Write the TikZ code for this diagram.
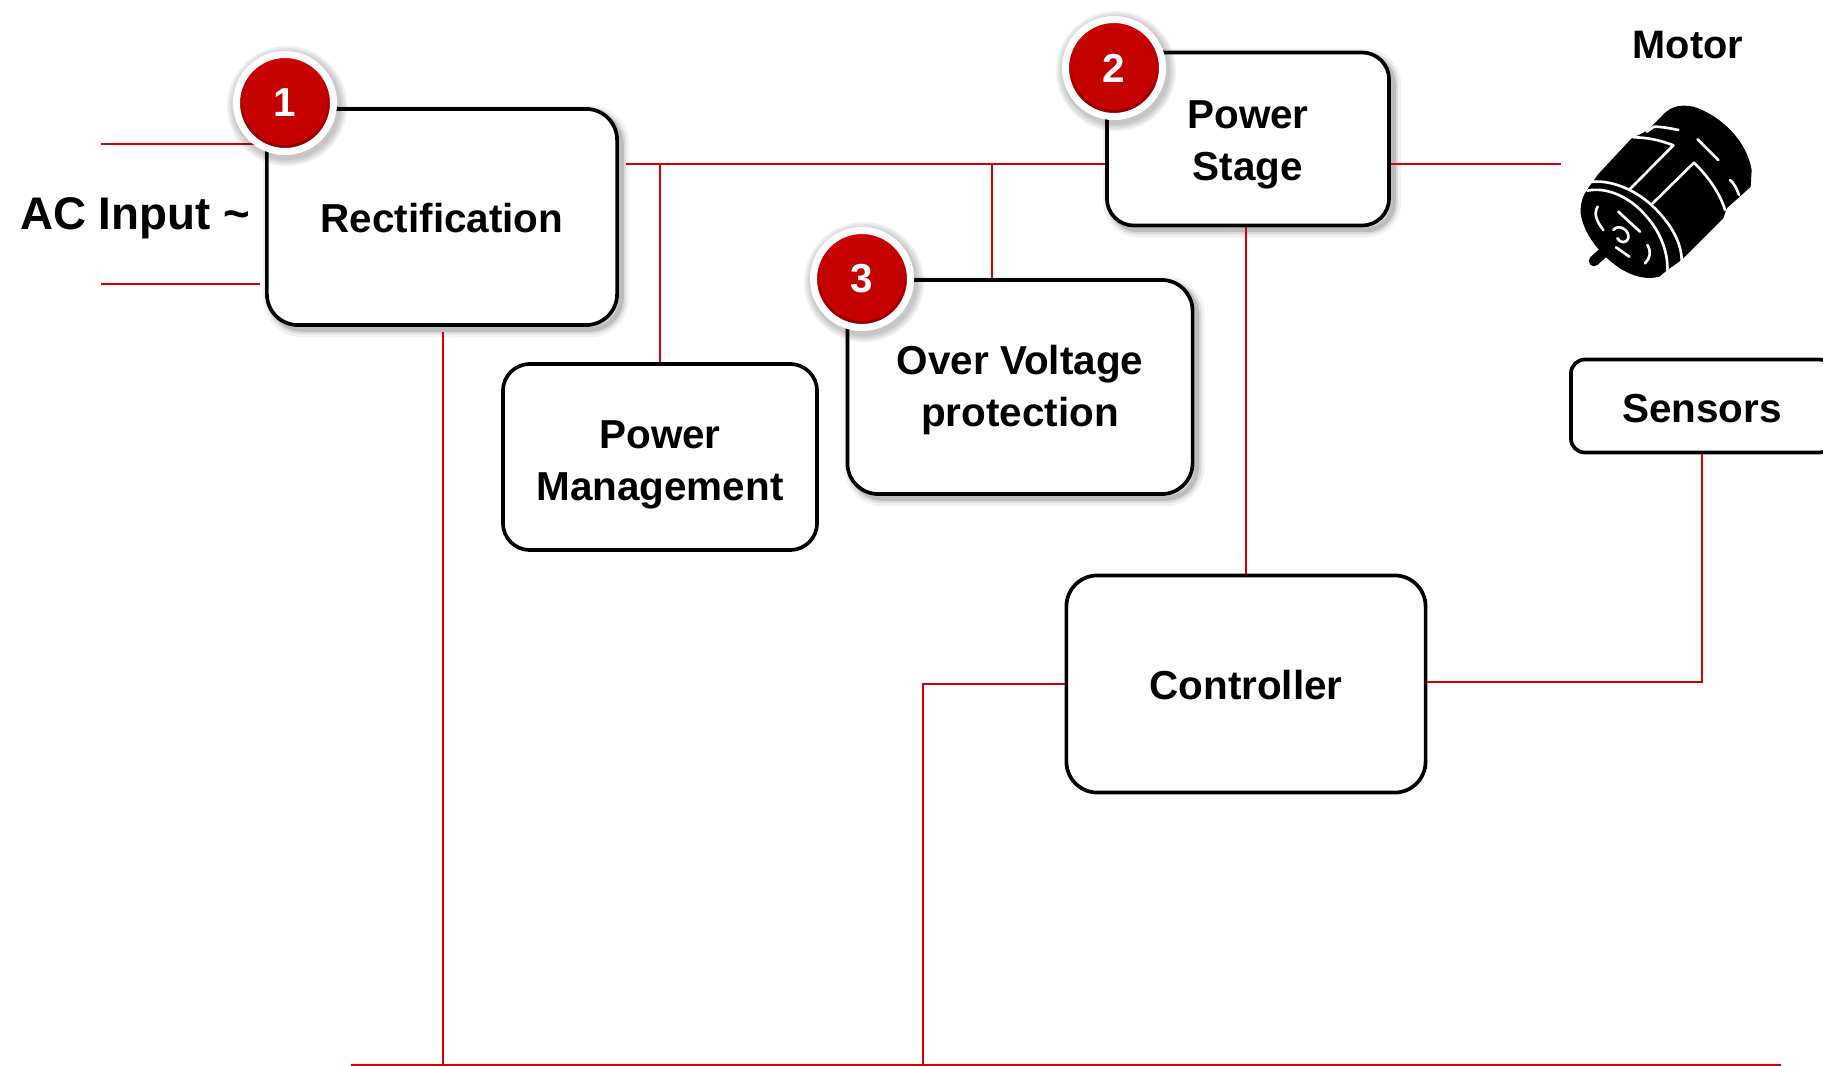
\documentclass[tikz,border=0pt]{standalone}
\usepackage{fontspec}
\setmainfont{Liberation Sans}
\definecolor{wirered}{RGB}{214,0,0}
\definecolor{badgered}{RGB}{196,0,0}
\newcommand{\blocktop}[1]{\rule{0pt}{#1pt}}
\tikzset{
    softshadow/.style={
        preaction={draw=black,opacity=.05,line width=4.5pt,transform canvas={xshift=1.2pt,yshift=-1.2pt}},
        preaction={draw=black,opacity=.09,line width=2.8pt,transform canvas={xshift=1.2pt,yshift=-1.2pt}},
        preaction={draw=black,opacity=.14,line width=1.4pt,transform canvas={xshift=1.2pt,yshift=-1.2pt}}},
    block/.style={shape=rectangle,draw=black,fill=white,line width=1.05pt,rounded corners=.31cm,inner sep=0pt,align=center,font=\fontsize{11.5}{14.8}\selectfont\bfseries},
    wire/.style={draw=wirered,line width=.78pt},
    badge/.style={shape=circle,minimum size=.97cm,inner sep=0pt,draw=white,line width=2pt,top color=red!85!black,bottom color=black!45!red,text=white,font=\fontsize{11.5}{13}\selectfont\bfseries,
        path picture={\fill[badgered] (path picture bounding box.center) circle (.42cm);}},
    glow/.style={fill=black,opacity=.06},
    slit/.style={draw=white,line width=.75pt,line cap=round,line join=round}
}
\begin{document}
\begin{tikzpicture}[x=.01cm,y=-.01cm]
    \clip (0,0) rectangle (1823,1066);

    % blocks
    \node[block,softshadow,minimum width=3.5cm,minimum height=2.16cm] (Rectification) at (442,217) {\blocktop{9}Rectification};
    \node[block,softshadow,minimum width=2.82cm,minimum height=1.73cm,rounded corners=.27cm] (PowerStage) at (1248,139) {\blocktop{11.1}Power\\Stage};
    \node[block,softshadow,minimum width=3.45cm,minimum height=2.14cm] (OverVoltage) at (1020,387) {\blocktop{10.3}Over Voltage\\protection};
    \node[block,minimum width=3.14cm,minimum height=1.86cm,rounded corners=.27cm] (PowerManagement) at (660,457) {\blocktop{12.3}Power\\Management};
    \node[block,minimum width=3.59cm,minimum height=2.17cm] (Controller) at (1246,684) {\blocktop{9}Controller};
    \node[block,minimum width=2.62cm,minimum height=.93cm,rounded corners=.14cm] (Sensors) at (1702,406) {\blocktop{9.6}Sensors};

    \node[font=\fontsize{13}{16}\selectfont\bfseries] (ACInput) at (135,218) {AC Input \textasciitilde};
    \node[font=\fontsize{11.3}{13}\selectfont\bfseries] (Motor) at (1688,45) {Motor};

    % free ends
    \coordinate (ACTopEnd) at (101,144);
    \coordinate (ACTopIn) at (262,144);
    \coordinate (ACLowEnd) at (101,284);
    \coordinate (ACLowIn) at (260,284);
    \coordinate (BusStart) at (626,164);
    \coordinate (JoinManage) at (660,164);
    \coordinate (JoinOver) at (992,164);
    \coordinate (MotorLead) at (1561,164);
    \coordinate (RectOut) at (443,332);
    \coordinate (GroundLeft) at (351,1065);
    \coordinate (GroundRight) at (1781,1065);
    \coordinate (GroundRect) at (443,1065);
    \coordinate (ControlBend) at (923,684);
    \coordinate (GroundControl) at (923,1065);
    \coordinate (SensorBend) at (1702,682);

    % wires
    \path [wire] (ACTopEnd) edge (ACTopIn);
    \path [wire] (ACLowEnd) edge (ACLowIn);
    \path [wire] (BusStart) edge (BusStart -| PowerStage.west);
    \path [wire] (JoinManage) edge (PowerManagement.north);
    \path [wire] (JoinOver) edge (JoinOver |- OverVoltage.north);
    \path [wire] (MotorLead -| PowerStage.east) edge (MotorLead);
    \path [wire] (Controller.north |- PowerStage.south) edge (Controller.north);
    \draw [wire] (SensorBend -| Controller.east) -- (SensorBend) -- (Sensors.south);
    \draw [wire] (Controller.west) -- (ControlBend) -- (GroundControl);
    \path [wire] (RectOut) edge (GroundRect);
    \path [wire] (GroundLeft) edge (GroundRight);

    % badges
    \foreach \name/\xpos/\ypos/\num in {BadgeOne/285/103/1,BadgeTwo/1114/68/2,BadgeThree/862/279/3} {
        \foreach \rad in {60,58,56,54}
            \fill[glow] (\xpos+2,\ypos+3) circle (\rad);
        \node[badge] (\name) at (\xpos,\ypos) {\num};
    }

    % motor
    \begin{scope}[shift={(1530,0)},x=.01cm/3,y=-.01cm/3]
        \draw[black,line width=3pt,line cap=round] (192,783) -- (245,735);
        \fill[black] (205,522) -- (305,415) -- (350,393) -- (392,352) .. controls (420,318) and (450,312) .. (490,320) .. controls (570,345) and (650,420) .. (665,510) -- (662,560) -- (635,585) -- (590,625) -- (580,655) -- (455,780) -- (412,810) -- (388,830) .. controls (350,840) and (310,830) .. (270,805) .. controls (210,765) and (160,700) .. (152,640) .. controls (150,610) and (160,585) .. (172,568) -- cycle;
        \draw[slit] (172,572) .. controls (230,560) and (300,590) .. (350,650) .. controls (395,700) and (415,765) .. (412,812);
        \draw[slit] (172,547) .. controls (240,535) and (320,570) .. (375,625) .. controls (425,675) and (455,730) .. (455,782);
        \draw[slit] (300,567) -- (430,436) .. controls (390,420) and (350,412) .. (310,412);
        \draw[slit] (365,613) -- (492,488) .. controls (535,530) and (570,580) .. (585,630);
        \draw[slit] (350,395) -- (372,380) .. controls (395,380) and (420,385) .. (445,390);
        \draw[slit] (503,418) -- (565,480);
        \draw[slit] (600,540) .. controls (612,550) and (620,565) .. (627,585);
        \draw[slit] (203,620) .. controls (190,640) and (200,665) .. (220,690);
        \draw[slit] (265,635) -- (330,695);
        \draw[slit] (258,742) -- (298,770);
        \draw[slit] (352,735) .. controls (365,755) and (360,775) .. (345,790);
        \draw[slit] (250,690) .. controls (265,670) and (300,690) .. (295,715) .. controls (290,730) and (270,730) .. (262,715);
    \end{scope}
\end{tikzpicture}
\end{document}
